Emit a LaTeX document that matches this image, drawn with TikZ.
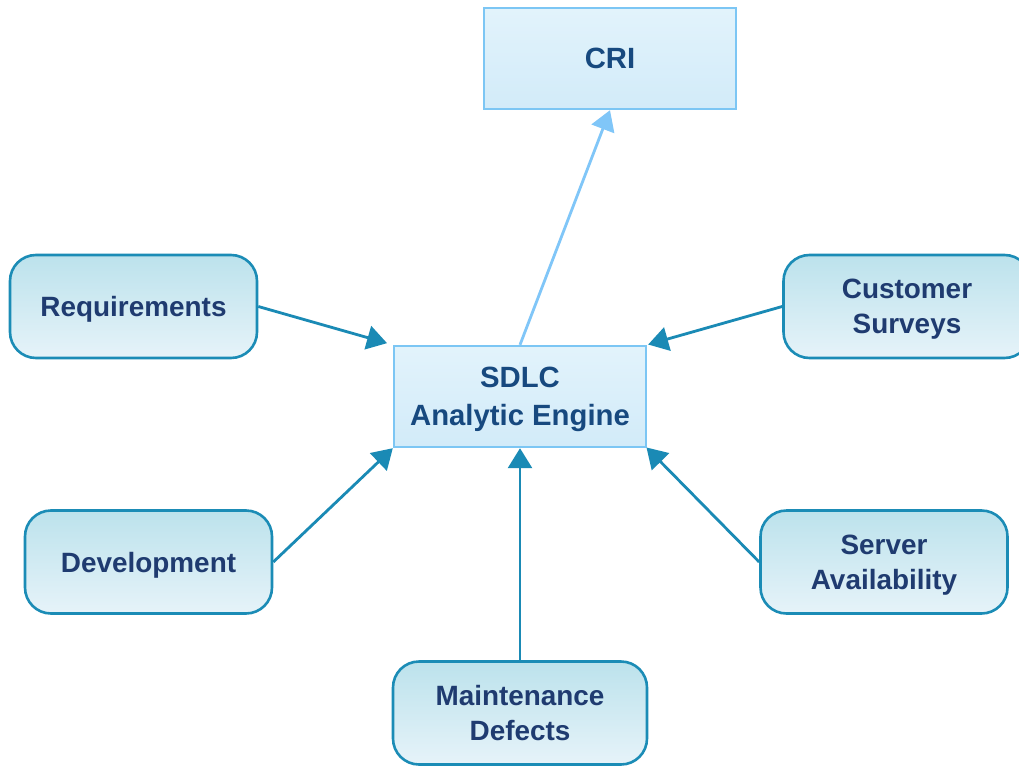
\documentclass[tikz,border=0pt]{standalone}
\usepackage{fontspec}
\setmainfont{Liberation Sans}
\usetikzlibrary{arrows.meta}
\definecolor{rectedge}{HTML}{7CC6F4}
\definecolor{recttop}{HTML}{E2F3FB}
\definecolor{rectbot}{HTML}{D2EBF9}
\definecolor{rectink}{HTML}{17497F}
\definecolor{pilledge}{HTML}{1B8CB6}
\definecolor{pilltop}{HTML}{BCE2EC}
\definecolor{pillbot}{HTML}{E6F3F9}
\definecolor{pillink}{HTML}{1F3B70}
\definecolor{feed}{HTML}{1A8AB5}
\definecolor{outflow}{HTML}{80C6F8}
\tikzset{
  engine/.style={draw=rectedge, line width=2.4pt, top color=recttop, bottom color=rectbot,
    minimum width=252pt, minimum height=101pt, align=center, text=rectink,
    font=\fontsize{29.3}{38}\selectfont\bfseries, inner sep=0pt, text depth=0pt},
  source/.style={draw=pilledge, line width=2.6pt, rounded corners=26pt, top color=pilltop,
    bottom color=pillbot, minimum width=247pt, minimum height=103pt, align=center,
    text=pillink, font=\fontsize{27.9}{35}\selectfont\bfseries, inner sep=0pt, text depth=0pt},
  feedarrow/.style={draw=feed, line width=2.8pt, -{Triangle[length=20pt, width=24pt]}},
  outarrow/.style={draw=outflow, line width=2.8pt, -{Triangle[length=20pt, width=24pt]}}
}
\begin{document}
\begin{tikzpicture}[x=1pt, y=-1pt]
\useasboundingbox (0,0) rectangle (1019,765);
\fill[white] (0,0) rectangle (1019,765);

\node[engine] (cri) at (610,58.5) {CRI};
\node[engine] (sdlc) at (520,396.5) {SDLC\\Analytic Engine};

\node[source] (req) at (133.5,306.5) {Requirements};
\node[source] (cust) at (907,306.5) {Customer\\Surveys};
\node[source] (dev) at (148.5,562) {Development};
\node[source] (serv) at (884,562) {Server\\Availability};
\node[source, minimum width=254pt] (maint) at (520,713) {Maintenance\\Defects};

\draw[outarrow] (sdlc.north) -- (cri.south);
\draw[feedarrow, shorten >=6pt] (req.east) -- (sdlc.north west);
\draw[feedarrow, shorten >=1pt] (cust.west) -- (sdlc.north east);
\draw[feedarrow] (dev.east) -- (sdlc.south west);
\draw[feedarrow] (maint.north) -- (sdlc.south);
\draw[feedarrow, shorten >=-1pt] (serv.west) -- (sdlc.south east);
\end{tikzpicture}
\end{document}
